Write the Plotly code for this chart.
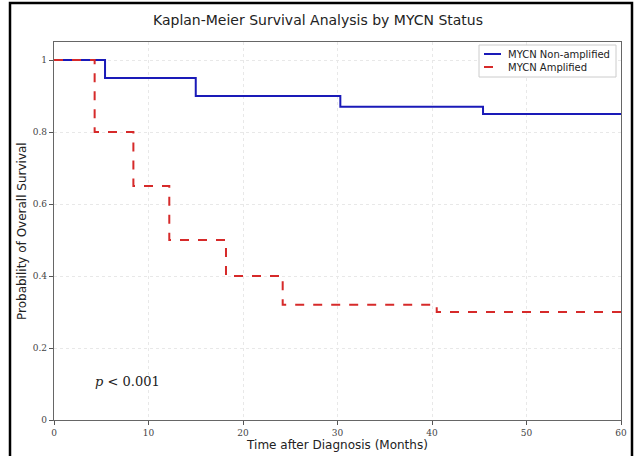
import plotly.graph_objects as go

# Data
non_amp_time = [0, 5.4, 15.0, 30.3, 45.4, 60]
non_amp_surv = [1.0, 0.95, 0.90, 0.87, 0.85, 0.85]
amp_time = [0, 4.3, 8.4, 12.2, 18.2, 24.2, 40.5, 60]
amp_surv = [1.0, 0.80, 0.65, 0.50, 0.40, 0.32, 0.30, 0.30]
x_ticks = [0, 10, 20, 30, 40, 50, 60]
y_ticks = [0, 0.2, 0.4, 0.6, 0.8, 1.0]
y_tick_labels = ["0", "0.2", "0.4", "0.6", "0.8", "1"]
series_names = ["MYCN Non-amplified", "MYCN Amplified"]
series_colors = ["#1a1ab8", "#d62a2a"]
series_dash = ["solid", "dash"]

# pixel -> paper helpers (plot area: x 54..621, y 42..420)
def px(xp):
    return (xp - 54) / 567.0

def py(yp):
    return (420 - yp) / 378.0

fig = go.Figure()
for t, s, name, col, dash in zip([non_amp_time, amp_time], [non_amp_surv, amp_surv],
                                 series_names, series_colors, series_dash):
    fig.add_trace(go.Scatter(x=t, y=s, mode="lines", name=name,
                             line=dict(shape="hv", color=col, width=2, dash=dash)))

axis_common = dict(showline=True, linecolor="#666", linewidth=1.2, mirror=True,
                   ticks="outside", ticklen=4, tickcolor="#555",
                   showgrid=True, gridcolor="#e8e8e8", griddash="dot", gridwidth=1,
                   zeroline=False, automargin=False,
                   tickfont=dict(family="DejaVu Serif, serif", size=9, color="#444"))

fig.update_layout(
    width=636, height=456,
    margin=dict(l=54, r=15, t=42, b=36),
    paper_bgcolor="white", plot_bgcolor="white",
    title=dict(text="Kaplan-Meier Survival Analysis by MYCN Status", x=0.5, xanchor="center",
               y=0.955, yanchor="middle",
               font=dict(family="DejaVu Sans, sans-serif", size=14, color="#222")),
    xaxis=dict(range=[0, 60], tickvals=x_ticks,
               title=dict(text="Time after Diagnosis (Months)", standoff=2,
                          font=dict(family="DejaVu Sans, sans-serif", size=12, color="#222")),
               **axis_common),
    yaxis=dict(range=[0, 1.05], tickvals=y_ticks, ticktext=y_tick_labels, **axis_common),
    showlegend=False,
)

# y-axis title
fig.add_annotation(x=px(22), y=py(231), xref="paper", yref="paper", showarrow=False,
                   text="Probability of Overall Survival", textangle=-90,
                   xanchor="center", yanchor="middle",
                   font=dict(family="DejaVu Sans, sans-serif", size=12, color="#222"))

# p-value
fig.add_annotation(x=7.8, y=0.108, xref="x", yref="y", showarrow=False,
                   text="<i>p</i> < 0.001",
                   font=dict(family="DejaVu Serif, serif", size=13, color="#222"))

# compact legend box
fig.add_shape(type="rect", xref="paper", yref="paper",
              x0=px(479), x1=px(616), y0=py(77), y1=py(45),
              line=dict(color="#cccccc", width=1), fillcolor="white", layer="above")
for i, (name, col, dash) in enumerate(zip(series_names, series_colors, series_dash)):
    yy = py(54 + 13 * i)
    fig.add_shape(type="line", xref="paper", yref="paper",
                  x0=px(484), x1=px(501), y0=yy, y1=yy,
                  line=dict(color=col, width=2, dash=dash), layer="above")
    fig.add_annotation(x=px(506), y=yy, xref="paper", yref="paper", showarrow=False,
                       text=name, xanchor="left", yanchor="middle",
                       font=dict(family="DejaVu Sans, sans-serif", size=10, color="#222"))

# outer black frame of the image
fig.add_shape(type="rect", xref="paper", yref="paper",
              x0=px(10), x1=px(632), y0=py(459), y1=py(3),
              line=dict(color="black", width=2.5), layer="above")

fig.write_html("out.html", config={"displayModeBar": False},
               post_script="document.body.style.margin='0';document.body.style.overflow='hidden';")
